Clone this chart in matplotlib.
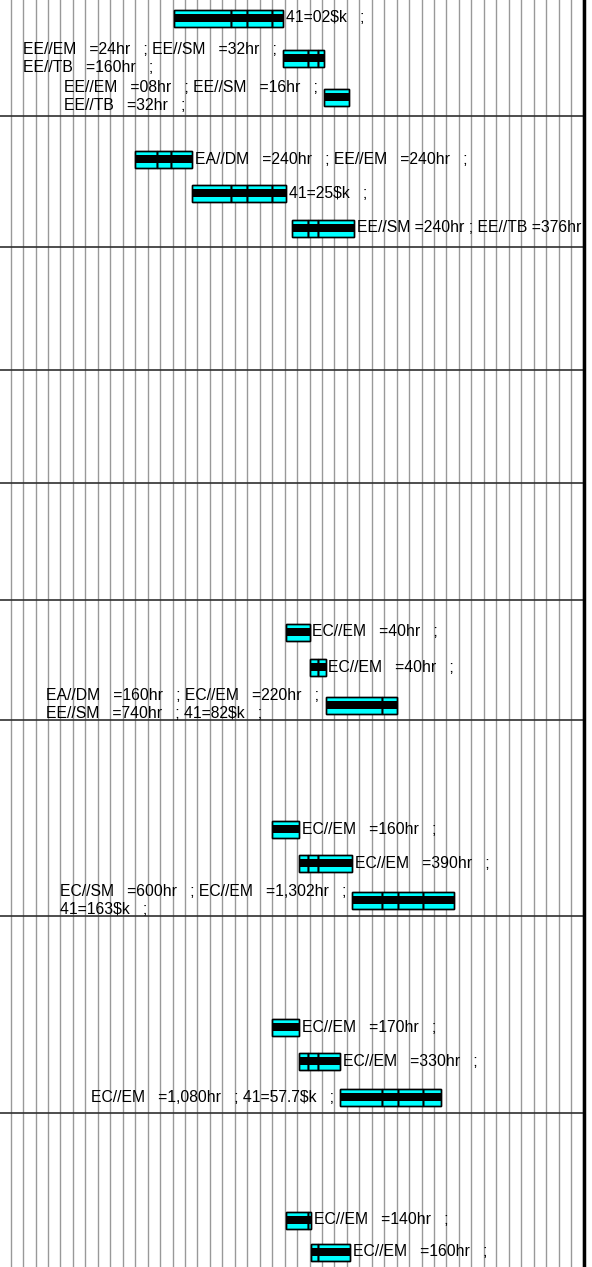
import matplotlib
matplotlib.use("Agg")
from matplotlib import pyplot as plt
from matplotlib.ticker import MultipleLocator

# rows (position from top of the page strip) and day boundaries of each bar piece
row_pos = [18, 58, 97,
           159, 193, 228,
           632, 667, 705,
           829, 863, 900,
           1027, 1061, 1097,
           1220, 1252]

bar_edges = [[92, 124, 133, 147, 153],
             [153, 167, 173, 176],
             [176, 190],
             [70, 82, 90, 102],
             [102, 124, 133, 147, 155],
             [158, 167, 173, 193],
             [155, 168],
             [168, 173, 177],
             [177, 209, 217],
             [147, 162],
             [162, 167, 173, 192],
             [192, 209, 218, 232, 249],
             [147, 162],
             [162, 167, 173, 185],
             [185, 209, 218, 232, 242],
             [155, 167, 169],
             [169, 173, 191]]

labels = ["41=02$k   ;",
          "EE//EM   =24hr   ; EE//SM   =32hr   ;\nEE//TB   =160hr   ;",
          "EE//EM   =08hr   ; EE//SM   =16hr   ;\nEE//TB   =32hr   ;",
          "EA//DM   =240hr   ; EE//EM   =240hr   ;",
          "41=25$k   ;",
          "EE//SM =240hr ; EE//TB =376hr ;",
          "EC//EM   =40hr   ;",
          "EC//EM   =40hr   ;",
          "EA//DM   =160hr   ; EC//EM   =220hr   ;\nEE//SM   =740hr   ; 41=82$k   ;",
          "EC//EM   =160hr   ;",
          "EC//EM   =390hr   ;",
          "EC//SM   =600hr   ; EC//EM   =1,302hr   ;\n41=163$k   ;",
          "EC//EM   =170hr   ;",
          "EC//EM   =330hr   ;",
          "EC//EM   =1,080hr   ; 41=57.7$k   ;",
          "EC//EM   =140hr   ;",
          "EC//EM   =160hr   ;"]

label_side = ["right", "left", "left",
              "right", "right", "right",
              "right", "right", "left",
              "right", "right", "left",
              "right", "right", "left",
              "right", "right"]

section_lines = [116, 247, 370, 483, 600, 720, 916, 1113]


def draw_chart():
    plt.rcParams['font.family'] = ['Liberation Sans', 'DejaVu Sans']
    fig = plt.figure(figsize=(5.92, 12.67), dpi=100)
    ax = fig.add_axes([0, 0, 584 / 592, 1])
    ax.set_xlim(-6, 322.3)
    ax.set_ylim(1267, 0)

    # weekly grid
    ax.xaxis.set_major_locator(MultipleLocator(7))
    ax.grid(axis='x', color='#999999', linewidth=1)
    ax.set_axisbelow(True)
    ax.tick_params(left=False, bottom=False, labelleft=False, labelbottom=False)
    for side in ['left', 'top', 'bottom']:
        ax.spines[side].set_visible(False)
    ax.spines['right'].set_linewidth(2.5)
    ax.spines['right'].set_color('black')

    for y in section_lines:
        ax.axhline(y, color='#303030', linewidth=1.2, zorder=1)

    for y, edges, text, side in zip(row_pos, bar_edges, labels, label_side):
        starts = edges[:-1]
        widths = [b - a for a, b in zip(edges[:-1], edges[1:])]
        ax.barh(y, widths, left=starts, height=17, color='#00ffff',
                edgecolor='black', linewidth=1, zorder=3)
        ax.barh(y, edges[-1] - edges[0], left=edges[0], height=8,
                color='black', linewidth=0, zorder=4)
        ax.barh(y, widths, left=starts, height=17, fill=False,
                edgecolor='black', linewidth=1, zorder=5)
        # the last label runs past the right border and gets cut there
        if side == 'right':
            ax.text(edges[-1] + 1.6, y, text, ha='left', va='center',
                    fontsize=11.35, linespacing=1.25, zorder=2, clip_on=True)
        else:
            ax.text(edges[0] - 3.5, y, text, ha='right', va='center',
                    multialignment='left', fontsize=11.35, linespacing=1.25,
                    zorder=2, clip_on=True)

    plt.savefig("out.png", dpi=100)


def main():
    draw_chart()
    pass


if __name__ == "__main__":
    main()
